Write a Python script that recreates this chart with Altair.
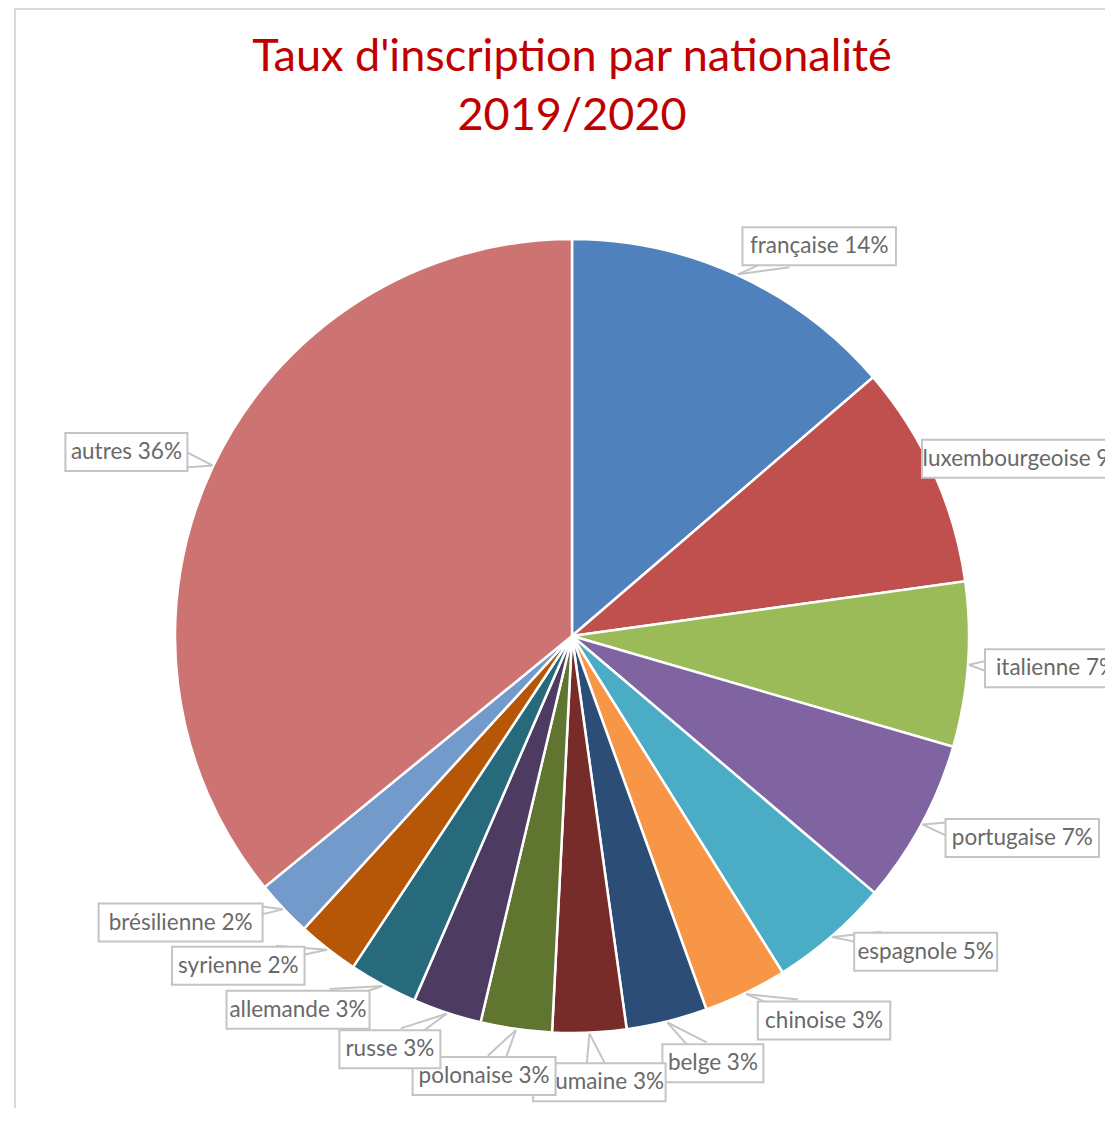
import altair as alt
import pandas as pd

# ---- data ----
nationalites = ["française", "luxembourgeoise", "italienne", "portugaise", "espagnole",
                "chinoise", "belge", "roumaine", "polonaise", "russe", "allemande",
                "syrienne", "brésilienne", "autres"]
parts = [13.7, 9.1, 6.7, 6.7, 4.9, 3.4, 3.3, 3.0, 2.9, 2.8, 2.8, 2.5, 2.3, 35.9]
etiquettes_pct = ["14%", "9%", "7%", "7%", "5%", "3%", "3%", "3%", "3%", "3%", "3%",
                  "2%", "2%", "36%"]
couleurs = ["#4F81BD", "#C0504D", "#9BBB59", "#8064A2", "#4BACC6", "#F79646", "#2C4D75",
            "#772C2A", "#5F7530", "#4D3B62", "#276A7C", "#B65708", "#729ACA", "#CD7371"]
titre = ["Taux d'inscription par nationalité", "2019/2020"]

# ---- layout constants ----
W, H = 1097, 1100
CX, CY = 564, 628          # pie centre (view coords)
R = 397                    # pie radius
R0 = 428                   # label anchor radius
K = 0.13                   # label spreading (radians)
CW = 10.5                  # estimated char width of labels
PAD = 8.5
HH = 19
XMAX = 1120
FONT = "Lato"
TXT = "#696969"
BOX = "#C4C4C4"

df = pd.DataFrame({
    "nat": nationalites,
    "val": parts,
    "idx": list(range(len(nationalites))),
    "label": [f"{n} {p}" for n, p in zip(nationalites, etiquettes_pct)],
})

arcs = alt.Chart(df).mark_arc(radius=R, stroke="white", strokeWidth=2.5).encode(
    theta=alt.Theta("val:Q", stack=True),
    order=alt.Order("idx:Q"),
    color=alt.Color("nat:N", scale=alt.Scale(domain=nationalites, range=couleurs), legend=None),
    x=alt.value(CX),
    y=alt.value(CY),
)

geo = (
    alt.Chart(df)
    .transform_joinaggregate(total="sum(val)")
    .transform_window(cum="sum(val)", sort=[alt.SortField("idx")], frame=[None, 0])
    .transform_calculate(a="(datum.cum - datum.val/2) / datum.total * 2 * PI")
    .transform_calculate(
        a2=f"datum.a + {K} * sin(2 * (datum.a - PI)) * pow(cos(datum.a - PI), 2)"
    )
    .transform_calculate(
        tx=f"{CX} + {R + 1} * sin(datum.a)",
        ty=f"{CY} - {R + 1} * cos(datum.a)",
        ax=f"{CX} + {R0} * sin(datum.a2)",
        ay=f"{CY} - {R0} * cos(datum.a2)",
        hw=f"length(datum.label) * {CW} / 2 + {PAD}",
    )
    .transform_calculate(
        lx0="datum.ax + sin(datum.a2) * datum.hw",
        ly=f"datum.ay - cos(datum.a2) * {HH}",
    )
    .transform_calculate(lx=f"min(datum.lx0, {XMAX} - datum.hw)")
    .transform_calculate(
        bx1="datum.lx - datum.hw", bx2="datum.lx + datum.hw",
        by1=f"datum.ly - {HH}", by2=f"datum.ly + {HH}",
        w1x="datum.ax + cos(datum.a2) * 9", w1y="datum.ay + sin(datum.a2) * 9",
        w2x="datum.ax - cos(datum.a2) * 9", w2y="datum.ay - sin(datum.a2) * 9",
    )
)

layers = [arcs]
for i in range(len(nationalites)):
    g = geo.transform_filter(f"datum.idx == {i}")
    for wx, wy in (("w1x", "w1y"), ("w2x", "w2y")):
        layers.append(
            g.mark_rule(color=BOX, strokeWidth=2).encode(
                x=alt.X("tx:Q", scale=None), y=alt.Y("ty:Q", scale=None),
                x2=alt.X2(f"{wx}:Q"), y2=alt.Y2(f"{wy}:Q"),
            )
        )
    layers.append(
        g.mark_rect(fill="white", stroke=BOX, strokeWidth=2).encode(
            x=alt.X("bx1:Q", scale=None), x2="bx2:Q",
            y=alt.Y("by1:Q", scale=None), y2="by2:Q",
        )
    )
    layers.append(
        g.mark_text(font=FONT, fontSize=22.5, color=TXT, align="center", baseline="middle").encode(
            x=alt.X("lx:Q", scale=None), y=alt.Y("ly:Q", scale=None), text="label:N",
        )
    )

tdf = pd.DataFrame({"ligne": titre, "k": [0, 1]})
title = alt.Chart(tdf).mark_text(font=FONT, fontSize=45, color="#C00000", align="center",
                                 baseline="alphabetic").transform_calculate(
    ty="63 + 59 * datum.k"
).encode(x=alt.value(CX), y=alt.Y("ty:Q", scale=None), text="ligne:N")

frame = alt.Chart(pd.DataFrame({"k": [0]})).mark_rect(
    filled=False, stroke="#D9D9D9", strokeWidth=2
).encode(x=alt.value(7), x2=alt.value(W + 30), y=alt.value(1), y2=alt.value(H + 30))

chart = alt.layer(frame, *layers, title).properties(
    width=W, height=H, padding=0, autosize=alt.AutoSizeParams(type="none")
).configure_view(stroke=None)

chart.save("out.html", embed_options={"renderer": "svg", "actions": False})
